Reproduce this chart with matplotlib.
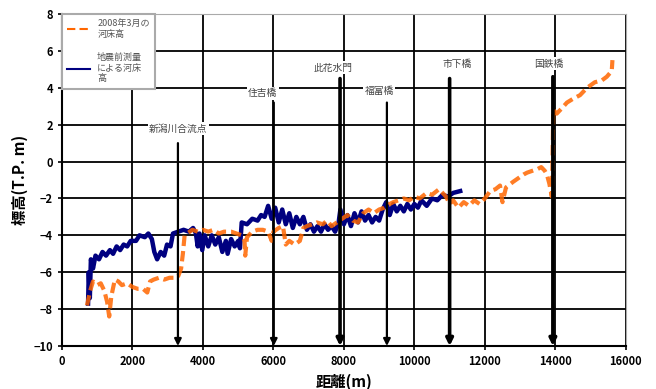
import numpy as np
import matplotlib.pyplot as plt
from matplotlib.lines import Line2D

plt.rcParams['font.family'] = ['Noto Sans CJK JP', 'DejaVu Sans']

# --- river bed survey, 2008 (orange dashed)
x_2008 = [710, 800, 880, 1000, 1100, 1200, 1280, 1340, 1400, 1500, 1600, 1700, 1850, 2000,
          2150, 2300, 2420, 2500, 2600, 2750, 2900, 3050, 3200, 3300, 3380, 3430, 3480, 3550,
          3700, 3850, 4000, 4150, 4300, 4450, 4600, 4800, 4950, 5100, 5180, 5200, 5250, 5400,
          5550, 5700, 5850, 5950, 6000, 6150, 6270, 6350, 6450, 6600, 6750, 6850, 6950, 7100,
          7230, 7400, 7520, 7650, 7800, 7950, 8100, 8250, 8400, 8550, 8700, 8850, 9000, 9150,
          9300, 9400, 9550, 9700, 9850, 10000, 10150, 10350, 10500, 10700, 10900, 11000, 11100,
          11250, 11400, 11550, 11700, 11850, 12000, 12150, 12300, 12430, 12500, 12600, 12800,
          12950, 13100, 13200, 13350, 13500, 13600, 13700, 13760, 13830, 13900, 13920, 13940,
          14040, 14190, 14330, 14500, 14700, 14900, 15120, 15320, 15460, 15550, 15600, 15620]
y_2008 = [-7.8, -7.0, -6.5, -6.7, -6.6, -7.0, -7.6, -8.4, -7.3, -6.4, -6.5, -6.7, -6.6, -6.8,
          -6.9, -6.9, -7.1, -6.5, -6.4, -6.3, -6.4, -6.3, -6.3, -6.2, -5.8, -5.0, -4.0, -3.9,
          -3.7, -3.8, -3.7, -3.8, -3.7, -3.9, -3.8, -3.8, -3.9, -4.0, -4.3, -5.1, -4.1, -3.8,
          -3.7, -3.7, -3.8, -4.3, -3.8, -3.6, -3.5, -4.5, -4.3, -4.5, -4.3, -3.6, -3.5, -3.4,
          -3.3, -3.4, -3.2, -3.5, -3.3, -3.1, -2.9, -3.2, -3.3, -2.8, -2.6, -2.8, -2.6, -2.5,
          -2.3, -2.2, -2.1, -2.0, -2.1, -1.9, -2.0, -1.7, -1.8, -1.5, -1.9, -2.3, -2.1,
          -2.5, -2.2, -2.4, -2.1, -2.3, -2.0, -1.6, -1.5, -1.3, -2.2, -1.4, -1.1,
          -0.9, -0.7, -0.6, -0.5, -0.4, -0.3, -0.5, -0.7, -1.2, -1.9, 0.0, 2.8,
          2.6, 2.9, 3.2, 3.4, 3.6, 4.0, 4.3, 4.4, 4.6, 4.8, 4.9, 5.5]

# --- river bed before the earthquake (navy solid)
x_before = [740, 760, 790, 820, 880, 950, 1050, 1150, 1250, 1360, 1450, 1550, 1650, 1750, 1850,
            1950, 2100, 2200, 2350, 2450, 2550, 2620, 2700, 2800, 2900, 2980, 3080, 3150, 3300,
            3450, 3600, 3720, 3800, 3850, 3900, 3980, 4050, 4150, 4250, 4350, 4450, 4550, 4650,
            4700, 4800, 4900, 5000, 5050, 5100, 5250, 5400, 5550, 5650, 5750, 5850, 5950, 6050,
            6150, 6250, 6350, 6450, 6550, 6650, 6750, 6850, 6950, 7050, 7150, 7250, 7350, 7450,
            7550, 7650, 7750, 7850, 7900, 8000, 8100, 8200, 8300, 8400, 8500, 8600, 8700, 8800,
            8900, 9000, 9100, 9200, 9300, 9400, 9500, 9600, 9700, 9800, 9900, 10000, 10100,
            10200, 10350, 10500, 10650, 10800, 10950, 11100, 11300]
y_before = [-7.7, -6.0, -7.4, -5.3, -5.8, -5.1, -5.3, -4.9, -5.1, -4.8, -5.0, -4.6, -4.8, -4.5, -4.6,
            -4.3, -4.3, -4.0, -4.1, -3.9, -4.2, -4.9, -5.3, -4.9, -5.1, -4.5, -4.6, -3.9, -3.8,
            -3.7, -3.8, -3.6, -3.9, -4.6, -3.9, -4.8, -4.0, -4.6, -4.0, -4.5, -4.1, -4.9, -4.3,
            -5.0, -4.2, -4.6, -4.3, -4.7, -3.3, -3.4, -3.1, -3.2, -2.9, -3.0, -2.4, -3.1, -2.5,
            -3.3, -2.6, -3.4, -2.8, -3.6, -3.0, -3.4, -3.0, -3.7, -3.4, -3.8, -3.5, -3.8, -3.4,
            -3.7, -3.5, -3.8, -3.3, -2.6, -3.4, -2.9, -3.5, -2.8, -3.3, -2.7, -3.2, -2.9, -3.3,
            -3.0, -3.2, -2.6, -2.2, -2.9, -2.3, -2.7, -2.4, -2.7, -2.3, -2.6, -2.3, -2.5,
            -2.1, -2.4, -2.0, -2.1, -1.8, -1.9, -1.7, -1.6]

# --- landmarks (bridges etc.)
mark_names = ['新潟川合流点', '住吉橋', '此花水門', '福富橋', '市下橋', '国鉄橋']
mark_x = [3290, 6010, 7890, 9220, 11000, 13930]
mark_top = [1.0, 3.2, 4.5, 3.2, 4.5, 4.6]
label_x = [3300, 5700, 7700, 9000, 11200, 13800]
label_y = [1.8, 3.7, 5.1, 3.8, 5.3, 5.3]

fig = plt.figure(figsize=(6.56, 3.89), dpi=100)
ax = fig.add_axes((0.0945, 0.1105, 0.8595, 0.8535))

ax.plot(x_before, y_before, color='#000080', lw=3.2, zorder=3)
ax.plot(x_2008, y_2008, color='#FF6600', lw=3, ls=(0, (2.5, 1.2)), alpha=0.85, zorder=4)

for i, name in enumerate(mark_names):
    w = 2.6 if i in (2, 4, 5) else 1.6
    ax.annotate('', xy=(mark_x[i], -10), xytext=(mark_x[i], mark_top[i]),
                arrowprops=dict(arrowstyle='-|>', color='k', lw=w, mutation_scale=10,
                                shrinkA=0, shrinkB=0), zorder=5)
    ax.text(label_x[i], label_y[i], name, fontsize=7, color='#444444', ha='center', va='center',
            bbox=dict(facecolor='white', edgecolor='none', pad=1), zorder=6)

ax.set_xlim(0, 16000)
ax.set_ylim(-10, 8)
ax.set_xticks(np.arange(0, 16001, 2000))
ax.set_yticks(np.arange(-10, 9, 2))
ax.grid(True, color='k', lw=1.3)
ax.set_axisbelow(True)
ax.tick_params(labelsize=8, length=3, width=1.2, colors='k')
for lab in ax.get_xticklabels() + ax.get_yticklabels():
    lab.set_fontweight('bold')
for s in ['top', 'right']:
    ax.spines[s].set_color('#aaaaaa')
ax.spines['left'].set_linewidth(1.5)
ax.spines['bottom'].set_linewidth(1.5)

ax.set_xlabel('距離(m)', fontsize=11, fontweight='bold', labelpad=4)
ax.set_ylabel('標高(T.P. m)', fontsize=11, fontweight='bold', labelpad=4)

handles = [Line2D([], [], color='#FF6600', lw=1.5, ls=(0, (4, 2))),
           Line2D([], [], color='#000080', lw=1.5)]
leg = ax.legend(handles, ['2008年3月の\n河床高', '地震前測量\nによる河床\n高'],
                loc='upper left', bbox_to_anchor=(0, 1), borderaxespad=0, fontsize=6.5,
                fancybox=False, framealpha=1, edgecolor='#aaaaaa', handlelength=2.5,
                labelspacing=1.6, borderpad=0.6)
leg.get_frame().set_linewidth(1.5)
leg.set_zorder(10)
for t in leg.get_texts():
    t.set_color('#555555')

fig.savefig('out.png', dpi=100)
